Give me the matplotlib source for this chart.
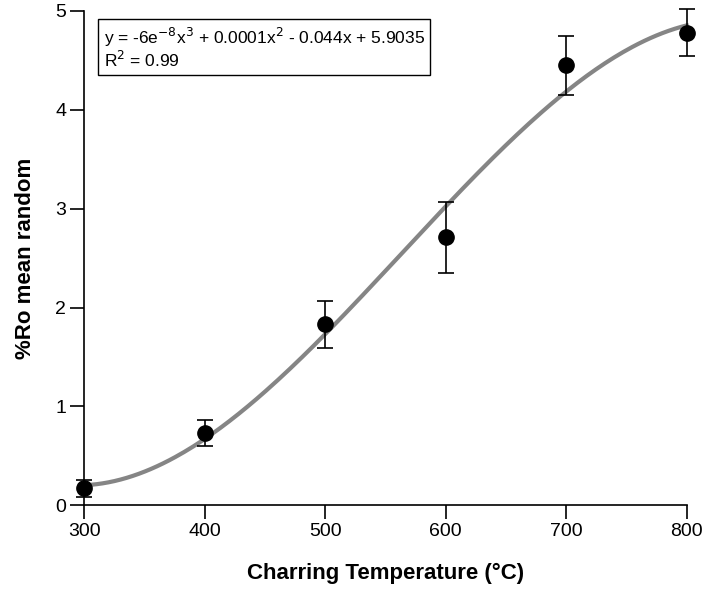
import numpy as np
import matplotlib.pyplot as plt

plt.rcParams['font.family'] = ['Liberation Sans', 'DejaVu Sans']

# data
temp = [300, 400, 500, 600, 700, 800]
ro_mean = [0.17, 0.73, 1.83, 2.71, 4.45, 4.78]
ro_err = [0.09, 0.135, 0.24, 0.36, 0.30, 0.24]

fig = plt.figure(figsize=(7.08, 6.11), dpi=100)
ax = fig.add_axes([0.119, 0.173, 0.851, 0.809])

# cubic trend line fitted to the points
coef = np.polyfit(temp, ro_mean, 3)
xs = np.linspace(300, 800, 200)
ax.plot(xs, np.polyval(coef, xs), color='#858585', lw=3, zorder=2, clip_on=False)

ax.errorbar(temp, ro_mean, yerr=ro_err, fmt='o', color='black', ms=11,
            capsize=5.5, elinewidth=1.2, capthick=1.2, zorder=3, clip_on=False)

ax.set_xlim(300, 800)
ax.set_ylim(0, 5)
ax.set_xticks([300, 400, 500, 600, 700, 800])
ax.set_yticks([0, 1, 2, 3, 4, 5])
ax.spines['top'].set_visible(False)
ax.spines['right'].set_visible(False)
ax.tick_params(direction='out', length=10, width=1.2, labelsize=14, pad=3)
for s in ['left', 'bottom']:
    ax.spines[s].set_linewidth(1.2)

ax.set_xlabel('Charring Temperature (°C)', fontsize=16, fontweight='bold', labelpad=16)
ax.set_ylabel('%Ro mean random', fontsize=16, fontweight='bold', labelpad=14)

ax.text(0.032, 0.97, 'y = -6e$^{-8}$x$^3$ + 0.0001x$^2$ - 0.044x + 5.9035\nR$^2$ = 0.99',
        transform=ax.transAxes, fontsize=12.5, va='top', ha='left', linespacing=1.05,
        bbox=dict(boxstyle='square,pad=0.3', facecolor='white', edgecolor='black', lw=1))

fig.savefig('out.png', dpi=100)
